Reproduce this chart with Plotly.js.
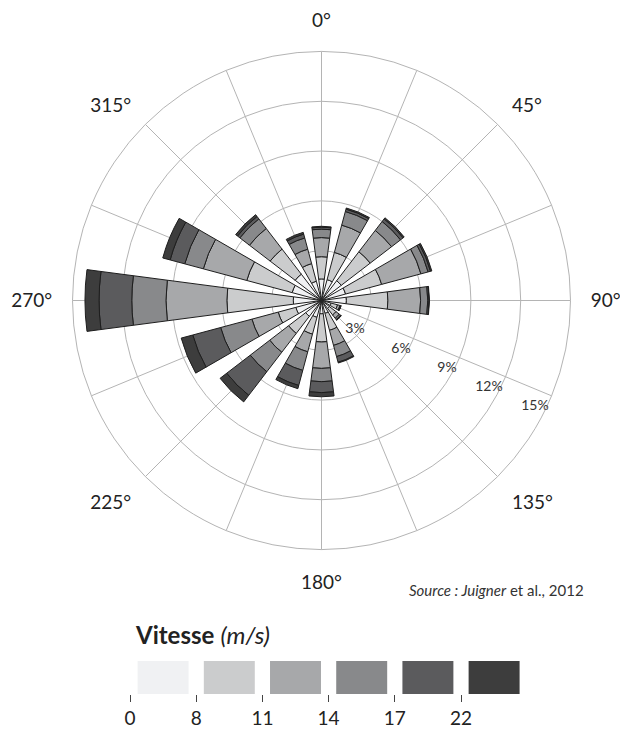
<!DOCTYPE html>
<html>
<head>
<meta charset="utf-8">
<script src="https://cdn.plot.ly/plotly-3.0.1.min.js"></script>
<style>html,body{margin:0;padding:0;background:#fff;}#chart{width:620px;height:729px;}</style>
</head>
<body>
<div id="chart"></div>
<script>
// Directions (degrees, clockwise from north)
var directions = [0, 22.5, 45, 67.5, 90, 112.5, 135, 157.5, 180, 202.5, 225, 247.5, 270, 292.5, 315, 337.5];
// Frequency (%) per speed class for each direction
var s0_8   = [1.30, 1.30, 1.50, 1.50, 1.50, 0.60, 0.60, 0.80, 0.80, 1.05, 1.20, 1.60, 1.70, 1.83, 2.00, 1.20];
var s8_11  = [1.34, 1.70, 2.20, 2.25, 2.50, 0.40, 0.50, 1.06, 1.70, 1.05, 1.30, 1.10, 4.00, 2.83, 1.90, 1.10];
var s11_14 = [1.15, 1.70, 1.62, 2.45, 1.97, 0.15, 0.25, 0.94, 1.59, 1.10, 1.43, 1.64, 3.67, 2.71, 1.57, 0.90];
var s14_17 = [0.51, 0.85, 0.68, 0.45, 0.43, 0.05, 0.10, 0.70, 0.80, 1.16, 1.48, 1.95, 2.06, 1.16, 0.73, 0.70];
var s17_22 = [0.12, 0.15, 0.20, 0.15, 0.08, 0.01, 0.03, 0.35, 0.66, 0.94, 1.79, 1.74, 1.97, 0.91, 0.18, 0.24];
var s22p   = [0.05, 0.07, 0.08, 0.08, 0.02, 0.01, 0.02, 0.05, 0.25, 0.20, 0.50, 0.72, 0.85, 0.46, 0.14, 0.11];

var speedSeries = [s0_8, s8_11, s11_14, s14_17, s17_22, s22p];
var speedNames = ['0–8', '8–11', '11–14', '14–17', '17–22', '>22'];
var speedColors = ['#f0f1f3', '#cbcccd', '#a7a8aa', '#88898b', '#5b5b5d', '#3d3d3d'];
var speedBounds = ['0', '8', '11', '14', '17', '22'];

var angTickVals = [0, 22.5, 45, 67.5, 90, 112.5, 135, 157.5, 180, 202.5, 225, 247.5, 270, 292.5, 315, 337.5];
var angTickText = ['0°', '', '45°', '', '90°', '', '135°', '', '180°', '', '225°', '', '270°', '', '315°', ''];
var radTickVals = [3, 6, 9, 12, 15];
var radTickText = ['3%', '6%', '9%', '12%', '15%'];

var FONT = 'Lato, "Open Sans", sans-serif';

var traces = [];
for (var i = 0; i < speedSeries.length; i++) {
  traces.push({
    type: 'barpolar',
    r: speedSeries[i],
    theta: directions,
    width: 15,
    name: speedNames[i],
    marker: {color: speedColors[i], line: {color: '#1e1e1e', width: 1}},
    showlegend: false,
    hoverinfo: 'skip'
  });
}
// colour key as a small bar chart
var keyIdx = [0, 1, 2, 3, 4, 5];
traces.push({
  type: 'bar',
  x: keyIdx,
  y: keyIdx.map(function(){return 1;}),
  width: 0.77,
  marker: {color: speedColors, line: {width: 0}},
  xaxis: 'x', yaxis: 'y',
  showlegend: false,
  hoverinfo: 'skip'
});

var layout = {
  width: 620, height: 729,
  margin: {l: 0, r: 0, t: 0, b: 0},
  paper_bgcolor: '#fff',
  plot_bgcolor: '#fff',
  font: {family: FONT, color: '#222'},
  showlegend: false,
  polar: {
    domain: {x: [72.5/620, 570.5/620], y: [1 - 549.5/729, 1 - 51.5/729]},
    bgcolor: '#fff',
    barmode: 'stack',
    angularaxis: {
      rotation: 90,
      direction: 'clockwise',
      tickmode: 'array',
      tickvals: angTickVals,
      ticktext: angTickText,
      ticks: 'outside',
      ticklen: 16,
      tickcolor: 'rgba(0,0,0,0)',
      tickfont: {size: 19, color: '#222', family: FONT},
      gridcolor: '#b4b4b4',
      gridwidth: 1,
      linecolor: '#b4b4b4',
      linewidth: 1,
      showline: true
    },
    radialaxis: {
      range: [0, 15],
      angle: -22.5,
      tickangle: -22.5,
      tickmode: 'array',
      tickvals: radTickVals,
      ticktext: radTickText,
      ticks: '',
      showline: false,
      side: 'clockwise',
      tickfont: {size: 14, color: '#333', family: FONT},
      gridcolor: '#b4b4b4',
      gridwidth: 1
    }
  },
  xaxis: {
    domain: [126.7/620, 527.2/620],
    range: [-0.55, 5.5],
    tickmode: 'array',
    tickvals: [-0.5, 0.5, 1.5, 2.5, 3.5, 4.5],
    ticktext: speedBounds,
    ticks: 'outside',
    ticklen: 7,
    tickwidth: 1,
    tickcolor: '#444',
    showgrid: false,
    zeroline: false,
    showline: false,
    tickfont: {size: 19, color: '#222', family: FONT},
    fixedrange: true
  },
  yaxis: {
    domain: [1 - 694/729, 1 - 661/729],
    range: [0, 1],
    showticklabels: false,
    showgrid: false,
    zeroline: false,
    showline: false,
    ticks: '',
    fixedrange: true
  },
  annotations: [
    {
      xref: 'paper', yref: 'paper',
      x: 133/620, y: 1 - 634/729,
      xanchor: 'left', yanchor: 'middle',
      text: '<b>Vitesse</b> <i>(m/s)</i>',
      showarrow: false,
      font: {size: 24, color: '#222', family: FONT}
    },
    {
      xref: 'paper', yref: 'paper',
      x: 586/620, y: 1 - 590/729,
      xanchor: 'right', yanchor: 'middle',
      text: '<i>Source : Juigner</i> et al., 2012',
      showarrow: false,
      font: {size: 15, color: '#333', family: FONT}
    }
  ]
};

Plotly.newPlot('chart', traces, layout, {displayModeBar: false, staticPlot: true});
</script>
</body>
</html>
